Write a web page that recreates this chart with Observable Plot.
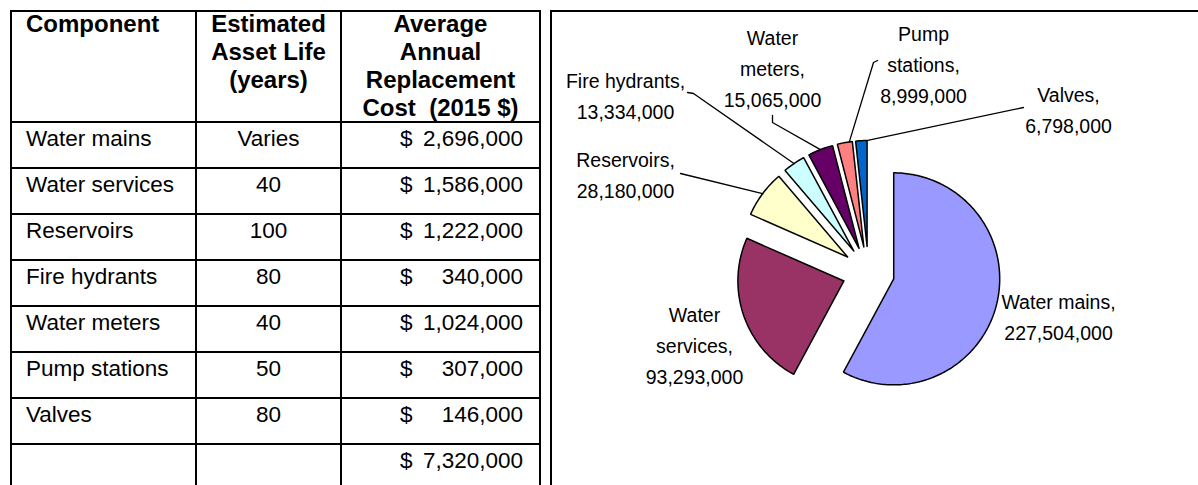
<!DOCTYPE html>
<html>
<head>
<meta charset="utf-8">
<script src="https://cdn.jsdelivr.net/npm/d3@7"></script>
<script src="https://cdn.jsdelivr.net/npm/@observablehq/plot@0.6"></script>
<style>
  html, body { margin: 0; padding: 0; background: #fff; }
  body { width: 1198px; height: 485px; overflow: hidden; position: relative;
         font-family: "Liberation Sans", Arial, sans-serif; color: #000; }
  #tbl { position: absolute; left: 10px; top: 10px; }
  table { border-collapse: collapse; table-layout: fixed; width: 529px; font-size: 22.5px; }
  td, th { border: 2px solid #000; padding: 0; vertical-align: top; overflow: visible; }
  th { font-weight: bold; font-size: 24px; }
  th .h { height: 111px; line-height: 28px; margin-top: -2px; }
  th.c1 .h { text-align: left; padding-left: 14px; }
  th.c2 .h, th.c3 .h { text-align: center; }
  td { height: 44px; }
  td .v { padding-top: 3px; line-height: 26px; }
  td.c1 .v { padding-left: 14px; }
  td.c2 .v { text-align: center; }
  td.c3 .v { display: flex; justify-content: space-between; padding-left: 58px; padding-right: 16px; }
  #panel { position: absolute; left: 550px; top: 10px; width: 700px; height: 520px;
           border-left: 2px solid #000; border-top: 2px solid #000; }
  #chart { position: absolute; left: 0; top: 0; }
</style>
</head>
<body>
<div id="tbl"></div>
<div id="panel"></div>
<div id="chart"></div>
<script>
// ---------- data ----------
const tableHeaders = [["Component"], ["Estimated", "Asset Life", "(years)"], ["Average", "Annual", "Replacement", "Cost\u00a0 (2015 $)"]];
const components = ["Water mains", "Water services", "Reservoirs", "Fire hydrants", "Water meters", "Pump stations", "Valves"];
const assetLife = ["Varies", "40", "100", "80", "40", "50", "80"];
const annualCost = [2696000, 1586000, 1222000, 340000, 1024000, 307000, 146000];
const totalAnnualCost = 7320000;
const pieValues = [227504000, 93293000, 28180000, 13334000, 15065000, 8999000, 6798000];
const sliceColors = ["#9999FF", "#993366", "#FFFFCC", "#CCFFFF", "#660066", "#FF8080", "#0066CC"];

// ---------- layout (page pixels) ----------
const PIE = {cx: 868, cy: 272, r: 106, explode: 26};
const labelLayout = [
  {x: 1058, y: 314, wrap: false},
  {x: 694, y: 343, wrap: true},
  {x: 625, y: 172, wrap: false},
  {x: 625, y: 93, wrap: false},
  {x: 772, y: 66, wrap: true},
  {x: 923, y: 62, wrap: true},
  {x: 1068, y: 107, wrap: false}
];
// leader: attach fraction along slice arc, then offsets relative to label anchor
const leaderLayout = [
  null, null,
  {t: 0.5, pts: [[55, 1]]},
  {t: 0.5, pts: [[68, 0], [62, -1]]},
  {t: 0.5, pts: [[0, 56], [0, 49]]},
  {t: 0.8, pts: [[-50, 0], [-46, -2]]},
  {t: 0.95, pts: [[-45, 0]]}
];

// ---------- table ----------
const fmt = d3.format(",");
const tbl = document.getElementById("tbl");
let html = '<table><colgroup><col style="width:185px"><col style="width:145px"><col style="width:199px"></colgroup>';
html += "<tr>" + tableHeaders.map((h, i) => `<th class="c${i + 1}"><div class="h">${h.join("<br>")}</div></th>`).join("") + "</tr>";
components.forEach((c, i) => {
  html += `<tr><td class="c1"><div class="v">${c}</div></td><td class="c2"><div class="v">${assetLife[i]}</div></td>` +
          `<td class="c3"><div class="v"><span>$</span><span>${fmt(annualCost[i])}</span></div></td></tr>`;
});
html += `<tr><td class="c1"><div class="v"></div></td><td class="c2"><div class="v"></div></td><td class="c3"><div class="v"><span>$</span><span>${fmt(totalAnnualCost)}</span></div></td></tr>`;
html += "</table>";
tbl.innerHTML = html;

// ---------- pie ----------
const pieData = components.map((name, i) => ({name, value: pieValues[i]}));
const arcs = d3.pie().sort(null).value(d => d.value)(pieData);
const pt = (cx, cy, r, a) => [cx + r * Math.sin(a), cy - r * Math.cos(a)];

const slicePts = [];
const leaderPts = [];
const labels = [];
arcs.forEach((a, i) => {
  const mid = (a.startAngle + a.endAngle) / 2;
  const [ax, ay] = pt(PIE.cx, PIE.cy, PIE.explode, mid);
  const n = Math.max(2, Math.ceil((a.endAngle - a.startAngle) / (Math.PI / 180)) + 1);
  slicePts.push({name: a.data.name, x: ax, y: ay});
  for (let k = 0; k < n; k++) {
    const ang = a.startAngle + (a.endAngle - a.startAngle) * k / (n - 1);
    const [x, y] = pt(ax, ay, PIE.r, ang);
    slicePts.push({name: a.data.name, x, y});
  }
  slicePts.push({name: a.data.name, x: ax, y: ay});

  const L = labelLayout[i];
  const nm = L.wrap ? a.data.name.replace(" ", "\n") : a.data.name;
  labels.push({x: L.x, y: L.y, text: nm + ",\n" + fmt(a.data.value)});

  const ld = leaderLayout[i];
  if (ld) {
    const ang = a.startAngle + (a.endAngle - a.startAngle) * ld.t;
    const [sx, sy] = pt(ax, ay, PIE.r, ang);
    leaderPts.push({name: a.data.name, x: sx, y: sy});
    ld.pts.forEach(([dx, dy]) => leaderPts.push({name: a.data.name, x: L.x + dx, y: L.y + dy}));
  }
});

const chart = Plot.plot({
  width: 1198, height: 485, margin: 0,
  x: {domain: [0, 1198], range: [0, 1198], axis: null},
  y: {domain: [0, 485], range: [0, 485], axis: null},
  color: {domain: components, range: sliceColors},
  style: {background: "transparent", overflow: "visible"},
  marks: [
    Plot.line(slicePts, {x: "x", y: "y", z: "name", fill: "name", stroke: "#000", strokeWidth: 1.5, strokeLinejoin: "miter", curve: "linear"}),
    Plot.line(leaderPts, {x: "x", y: "y", z: "name", stroke: "#000", strokeWidth: 1.3, curve: "linear"}),
    Plot.text(labels, {x: "x", y: "y", text: "text", fontSize: 19.5, fontFamily: "Liberation Sans, Arial, sans-serif",
      lineHeight: 1.59, textAnchor: "middle", lineAnchor: "middle", fill: "#000"})
  ]
});
document.getElementById("chart").appendChild(chart);
</script>
</body>
</html>
